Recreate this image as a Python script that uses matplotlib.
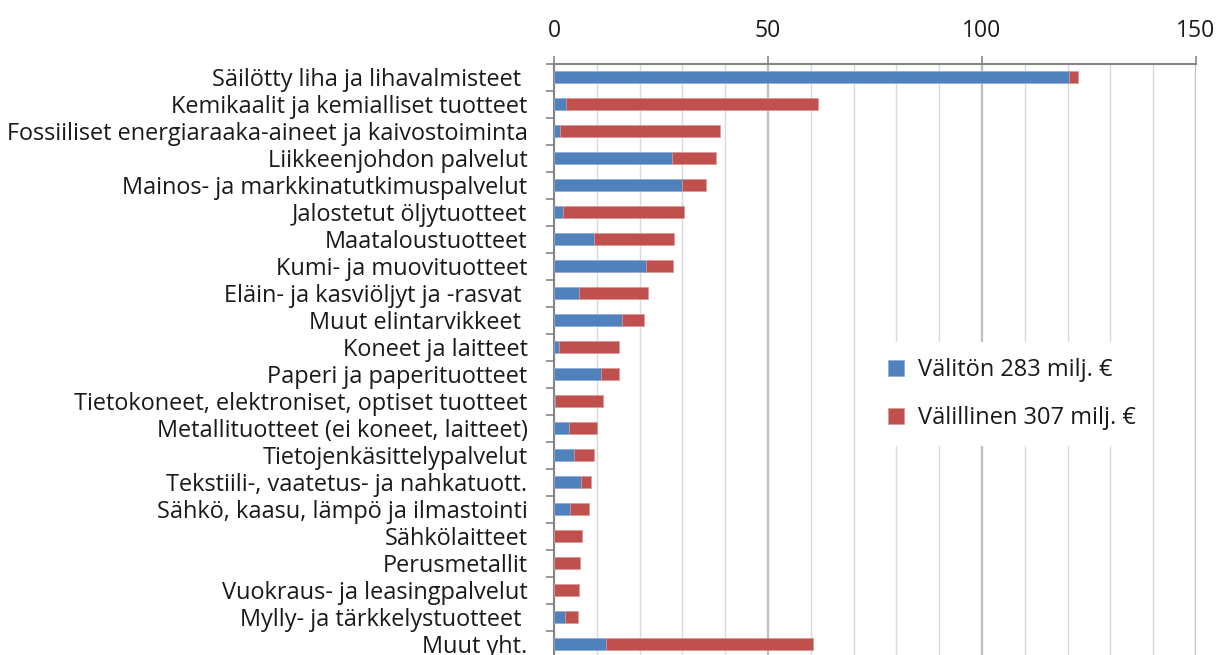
import matplotlib
matplotlib.use("Agg")
import matplotlib.pyplot as plt
from matplotlib.ticker import MultipleLocator, FixedLocator
import numpy as np

categories = [
    "Säilötty liha ja lihavalmisteet ",
    "Kemikaalit ja kemialliset tuotteet",
    "Fossiiliset energiaraaka-aineet ja kaivostoiminta",
    "Liikkeenjohdon palvelut",
    "Mainos- ja markkinatutkimuspalvelut",
    "Jalostetut öljytuotteet",
    "Maataloustuotteet",
    "Kumi- ja muovituotteet",
    "Eläin- ja kasviöljyt ja -rasvat ",
    "Muut elintarvikkeet ",
    "Koneet ja laitteet",
    "Paperi ja paperituotteet",
    "Tietokoneet, elektroniset, optiset tuotteet",
    "Metallituotteet (ei koneet, laitteet)",
    "Tietojenkäsittelypalvelut",
    "Tekstiili-, vaatetus- ja nahkatuott.",
    "Sähkö, kaasu, lämpö ja ilmastointi",
    "Sähkölaitteet",
    "Perusmetallit",
    "Vuokraus- ja leasingpalvelut",
    "Mylly- ja tärkkelystuotteet ",
    "Muut yht.",
]
valiton = [120.3, 2.8, 1.4, 27.6, 29.9, 2.1, 9.3, 21.5, 5.8, 15.9, 1.2,
           11.0, 0.2, 3.5, 4.7, 6.3, 3.7, 0.1, 0.1, 0.1, 2.6, 12.1]
valillinen = [2.1, 58.9, 37.4, 10.3, 5.6, 28.3, 18.7, 6.3, 16.2, 5.1, 14.0,
              4.2, 11.2, 6.5, 4.6, 2.3, 4.5, 6.4, 6.0, 5.7, 3.0, 48.4]
x_ticks = [0, 50, 100, 150]
legend_labels = ["Välitön 283 milj. €", "Välillinen 307 milj. €"]

plt.rcParams['font.family'] = ['Open Sans', 'DejaVu Sans']

W, H = 1217, 655
fig = plt.figure(figsize=(W / 100, H / 100), dpi=100)
ax = fig.add_axes([554 / W, (H - 657.5) / H, 642 / W, 594 / H])

y = np.arange(len(categories))
blue = "#4F81BD"
red = "#C0504D"
ax.barh(y, valiton, height=0.48, color=blue, edgecolor="#8EA9D4", linewidth=0.5,
        label=legend_labels[0], zorder=3)
ax.barh(y, valillinen, left=valiton, height=0.48, color=red, edgecolor="#D99694",
        linewidth=0.5, label=legend_labels[1], zorder=3)

ax.set_xlim(0, 150)
ax.set_ylim(len(categories) - 0.5, -0.5)

ax.xaxis.tick_top()
ax.xaxis.set_major_locator(FixedLocator(x_ticks))
ax.xaxis.set_minor_locator(MultipleLocator(10))
ax.tick_params(axis='x', which='major', length=6, width=1.2, color="#868686",
               labelsize=16.5, pad=9, labelcolor="#1a1a1a")
ax.tick_params(axis='x', which='minor', length=0)
ax.grid(axis='x', which='minor', color="#D9D9D9", linewidth=1.0, zorder=0)
ax.grid(axis='x', which='major', color="#BFBFBF", linewidth=1.6, zorder=0)

ax.set_yticks(y)
ax.set_yticklabels(categories)
ax.yaxis.set_minor_locator(FixedLocator(np.arange(-0.5, len(categories), 1.0)))
ax.tick_params(axis='y', which='major', length=0, pad=19, labelsize=16.9,
               labelcolor="#1a1a1a")
ax.tick_params(axis='y', which='minor', length=6, width=1.2, color="#868686")

for s in ['right', 'bottom']:
    ax.spines[s].set_visible(False)
for s in ['top', 'left']:
    ax.spines[s].set_color("#868686")
    ax.spines[s].set_linewidth(1.5)

leg = ax.legend(loc='upper left', bbox_to_anchor=((860 - 554) / 642, 1 - (330 - 63.5) / 594),
                frameon=True, fontsize=17, handlelength=0.65, handleheight=0.65,
                handletextpad=0.6, labelspacing=1.0, borderpad=0.7,
                fancybox=False, edgecolor="white", framealpha=1)
leg.get_frame().set_linewidth(0)
for t in leg.get_texts():
    t.set_color("#1a1a1a")

fig.savefig("out.png", dpi=100)
